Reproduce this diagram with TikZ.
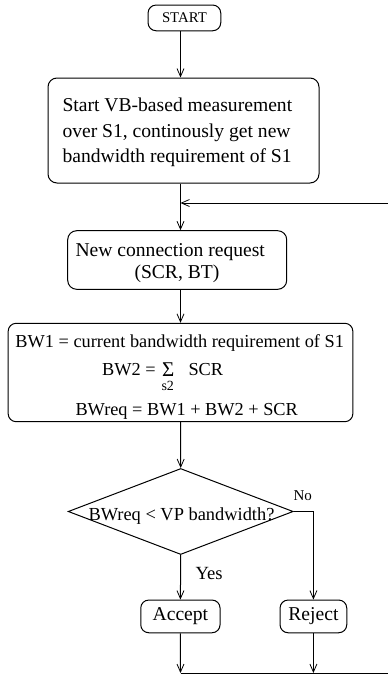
\documentclass[tikz,border=0pt]{standalone}
\usepackage{fontspec}
\setmainfont{Liberation Serif}
\usetikzlibrary{arrows.meta,shapes.geometric}
\newcommand\fsz[1]{\fontsize{#1}{#1}\selectfont}
\begin{document}
\begin{tikzpicture}[x=1pt,y=-1pt,
  line width=1pt,
  box/.style={draw, rounded corners=9pt, inner sep=0pt},
  arr/.style={-{Straight Barb[length=8pt,width=7pt,line width=0.8pt]}},
  txt/.style={inner sep=0pt, anchor=base west},
]
\useasboundingbox (0,0) rectangle (388,675);
\coordinate (col) at (180.5,0);
% boxes
\node[box, minimum width=72.7pt, minimum height=25.7pt, rounded corners=8pt, font=\fsz{14.8}] (start) at (184.4,17.9) {START};
\node[box, minimum width=271pt, minimum height=105pt] (b1) at (183.5,130.5) {};
\node[box, minimum width=219pt, minimum height=58.6pt] (b2) at (177.2,260) {};
\node[box, minimum width=344.7pt, minimum height=98.4pt, rounded corners=8pt] (b3) at (180.5,372.5) {};
\node[draw, diamond, inner sep=0pt, minimum width=225pt, minimum height=86pt] (dec) at (180.7,511.5) {};
\node[box, minimum width=79.3pt, minimum height=32.7pt, rounded corners=8pt, font=\fsz{19.6}] (acc) at (180.4,616.4) {Accept};
\node[box, minimum width=66.7pt, minimum height=32.7pt, rounded corners=8pt, font=\fsz{19.6}] (rej) at (313.4,616.4) {Reject};
% texts
\node[txt, font=\fsz{19.6}] (t11) at (62,111.5) {Start VB-based measurement};
\node[txt, font=\fsz{19.6}] (t12) at (62,137) {over S1, continously get new};
\node[txt, font=\fsz{19.6}] (t13) at (62,162.5) {bandwidth requirement of S1};
\node[txt, font=\fsz{19.6}] (t21) at (75,256.5) {New connection request};
\node[txt, font=\fsz{19.6}] (t22) at (134,278) {(SCR, BT)};
\node[txt, font=\fsz{18.3}] (t31) at (15,347.5) {BW1 = current bandwidth requirement of S1};
\node[txt, font=\fsz{18.3}] (t32) at (101.7,375) {BW2 =};
\node[txt, font=\fsz{21}] (sig) at (161.7,376) {Σ};
\node[txt, font=\fsz{14}] (s2) at (161,390.5) {s2};
\node[txt, font=\fsz{18.3}] (t33) at (188,375) {SCR};
\node[txt, font=\fsz{18.3}] (t34) at (75,415) {BWreq = BW1 + BW2 + SCR};
\node[inner sep=0pt, anchor=base, font=\fsz{18.4}] (dtx) at (181.5,520) {BWreq < VP bandwidth?};
\node[txt, font=\fsz{18.6}] (yes) at (195,579) {Yes};
\node[txt, font=\fsz{15}] (no) at (293,500.7) {No};
% connectors
\draw[arr] (start.south -| col) -- (b1.north -| col);
\draw[arr] (b1.south -| col) -- (b2.north -| col);
\coordinate (fbR) at (388,203);
\draw[arr] (fbR) -- (fbR -| col);
\draw[arr] (b2.south -| col) -- (b3.north -| col);
\draw[arr] (b3.south -| col) -- (dec.north);
\draw[arr] (dec.south) -- (acc.north);
\draw[arr] (dec.east) -- (dec.east -| rej.north) -- (rej.north);
\coordinate (accB) at (180.5,673);
\coordinate (rejB) at (313.4,673);
\coordinate (botR) at (388,673);
\draw[arr] (acc.south) -- (accB);
\draw[arr] (rej.south) -- (rejB);
\draw (accB) -- (botR);
\end{tikzpicture}
\end{document}
